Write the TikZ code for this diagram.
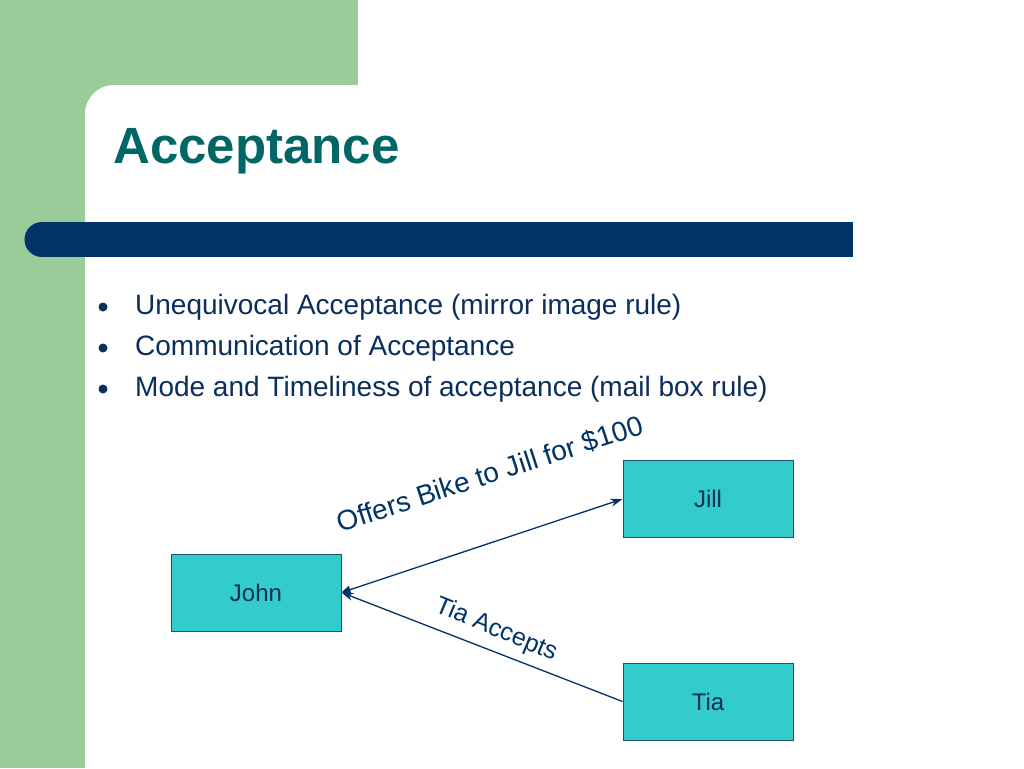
\documentclass[tikz,border=0pt]{standalone}
\usepackage{fontspec}
\setmainfont{Liberation Sans}
\usetikzlibrary{arrows.meta}
\definecolor{sgreen}{HTML}{99CC99}
\definecolor{navy}{HTML}{003366}
\definecolor{teal}{HTML}{006666}
\definecolor{boxfill}{HTML}{33CCCC}
\definecolor{boxline}{HTML}{1F4E6E}
\definecolor{txt}{HTML}{0B2E5C}
\begin{document}
\begin{tikzpicture}[x=1pt,y=-1pt,
  person/.style={draw=boxline, line width=1pt, fill=boxfill, minimum width=170pt, minimum height=77pt, inner sep=0pt, text=txt, font=\fontsize{24}{28}\selectfont},
  bullettext/.style={anchor=base west, inner sep=0pt, text=txt, font=\fontsize{28}{32}\selectfont},
  conn/.style={draw=navy, line width=1.3pt},
  lbl/.style={text=navy, inner sep=0pt}]
\useasboundingbox (0,0) rectangle (1024,768);
\fill[white] (0,0) rectangle (1024,768);
% background decoration
\fill[sgreen] (0,0) rectangle (358,85);
\fill[sgreen] (0,0) rectangle (85,768);
\fill[sgreen] (85,85) rectangle (130,130);
\fill[white, rounded corners=29pt] (85,85) rectangle (1100,850);
\fill[navy] (42,222) rectangle (853,257);
\fill[navy] (42,239.5) circle (17.5);
% title
\node[anchor=base west, inner sep=0pt, text=teal, font=\fontsize{51}{60}\selectfont\bfseries] (title) at (113,163) {Acceptance};
% bullets
\fill[txt] (103,307) circle (4.5);
\fill[txt] (103,348) circle (4.5);
\fill[txt] (103,389) circle (4.5);
\node[bullettext] (b1) at (135,314) {Unequivocal Acceptance (mirror image rule)};
\node[bullettext] (b2) at (135,355) {Communication of Acceptance};
\node[bullettext] (b3) at (135,396) {Mode and Timeliness of acceptance (mail box rule)};
% nodes
\node[person] (john) at (256,592.5) {John};
\node[person] (jill) at (708,499) {Jill};
\node[person] (tia) at (708,701.5) {Tia};
% connectors
\draw[conn, {Triangle[length=9pt,width=8pt]}-{Stealth[length=12pt,width=8pt]}] (john.east) -- (jill.west);
\draw[conn, -{Stealth[length=12pt,width=8pt]}] (tia.west) -- (john.east);
% labels
\node[lbl, rotate=18, font=\fontsize{28}{32}\selectfont] (offer) at (490,474) {Offers Bike to Jill for \$100};
\node[lbl, rotate=-22.5, font=\fontsize{25}{30}\selectfont] (acc) at (496,630) {Tia Accepts};
\end{tikzpicture}
\end{document}
